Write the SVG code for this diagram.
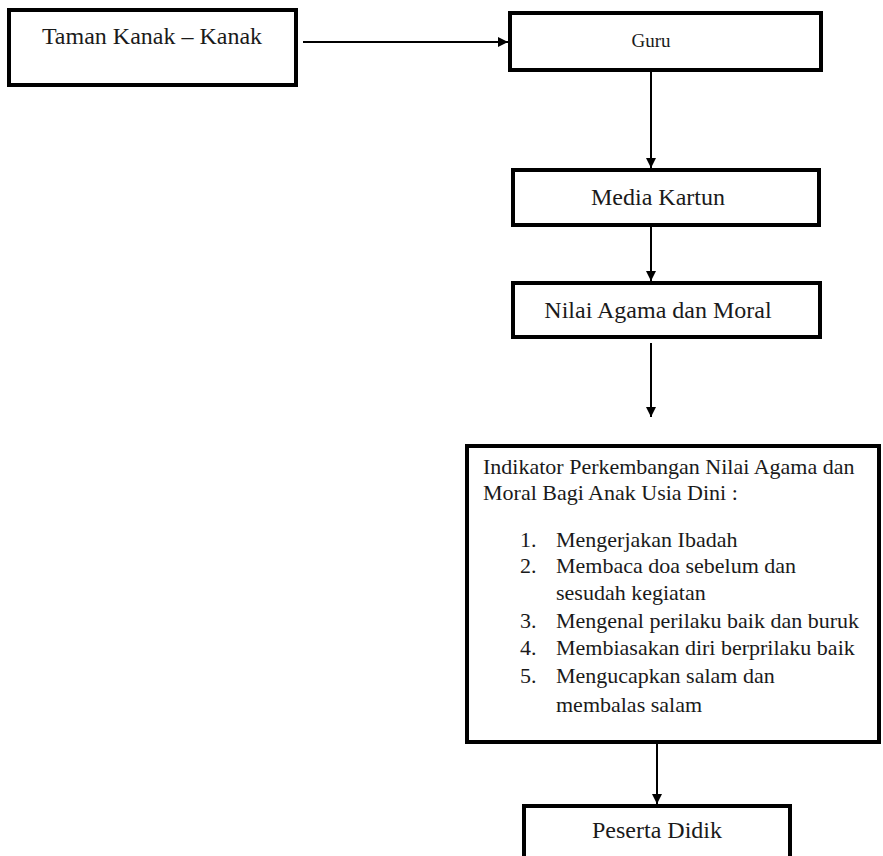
<svg xmlns="http://www.w3.org/2000/svg" width="883" height="856" viewBox="0 0 883 856">
<style>
.box{fill:#fff;stroke:#000;stroke-width:4}
.c{text-anchor:middle;font-size:24px}
.l{font-size:22px}
.con{stroke:#000;stroke-width:2;fill:none;marker-end:url(#ah)}
</style>
<defs>
<marker id="ah" markerUnits="userSpaceOnUse" markerWidth="10" markerHeight="10" refX="10" refY="5" orient="auto">
<path d="M0,0 L10,5 L0,10 z" fill="#000"/>
</marker>
</defs>
<rect width="883" height="856" fill="#fff"/>
<g id="connectors">
<line class="con" x1="303" y1="42" x2="508" y2="42"/>
<line class="con" x1="651" y1="71" x2="651" y2="168"/>
<line class="con" x1="651" y1="226" x2="651" y2="281"/>
<line class="con" x1="651" y1="343" x2="651" y2="417"/>
<line class="con" x1="657" y1="744" x2="657" y2="804"/>
</g>
<g font-family="Liberation Serif, DejaVu Serif, serif" fill="#1a1a1a">
<g id="taman-kanak">
<rect class="box" x="9" y="10" width="287" height="75"/>
<text class="c" x="152" y="44">Taman Kanak – Kanak</text>
</g>
<g id="guru">
<rect class="box" x="510" y="13" width="311" height="57"/>
<text x="651" y="47" text-anchor="middle" font-size="19">Guru</text>
</g>
<g id="media-kartun">
<rect class="box" x="513" y="170" width="306" height="55"/>
<text class="c" x="658" y="205">Media Kartun</text>
</g>
<g id="nilai-agama">
<rect class="box" x="513" y="283" width="307" height="54"/>
<text class="c" x="658" y="318">Nilai Agama dan Moral</text>
</g>
<g id="indikator">
<rect class="box" x="467" y="446" width="412" height="296"/>
<text class="l" x="483" y="474">Indikator Perkembangan Nilai Agama dan</text>
<text class="l" x="483" y="500">Moral Bagi Anak Usia Dini :</text>
<text class="l" x="520" y="547">1.</text>
<text class="l" x="556" y="547">Mengerjakan Ibadah</text>
<text class="l" x="520" y="573">2.</text>
<text class="l" x="556" y="573">Membaca doa sebelum dan</text>
<text class="l" x="556" y="600">sesudah kegiatan</text>
<text class="l" x="520" y="628">3.</text>
<text class="l" x="556" y="628">Mengenal perilaku baik dan buruk</text>
<text class="l" x="520" y="655">4.</text>
<text class="l" x="556" y="655">Membiasakan diri berprilaku baik</text>
<text class="l" x="520" y="683">5.</text>
<text class="l" x="556" y="683">Mengucapkan salam dan</text>
<text class="l" x="556" y="712">membalas salam</text>
</g>
<g id="peserta-didik">
<rect class="box" x="524" y="806" width="266" height="60"/>
<text class="c" x="657" y="838">Peserta Didik</text>
</g>
</g>
</svg>
